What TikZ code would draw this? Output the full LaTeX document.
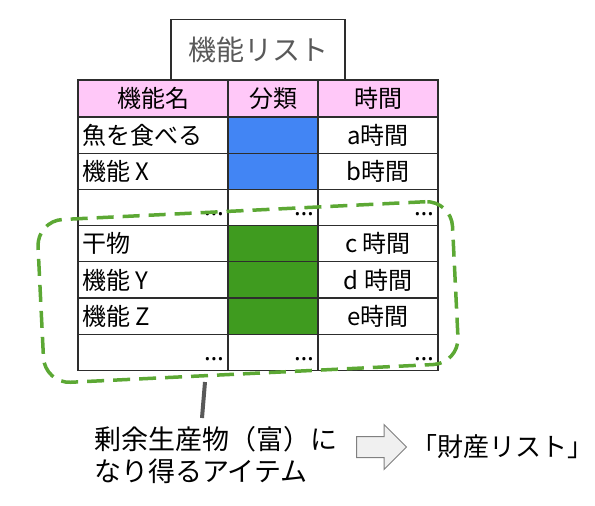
\documentclass[tikz,border=0pt]{standalone}
\usepackage{fontspec}
\setmainfont{Noto Sans CJK JP}
\newfontfamily\dotfont{Noto Sans}
\usetikzlibrary{positioning, shapes.arrows}
\definecolor{headpink}{RGB}{255, 200, 248}
\definecolor{featblue}{RGB}{66, 133, 244}
\definecolor{goodgreen}{RGB}{63, 155, 31}
\definecolor{dashgreen}{RGB}{92, 168, 52}
\definecolor{tablegray}{RGB}{45, 45, 45}
\definecolor{titlegray}{RGB}{89, 89, 89}
\definecolor{arrowfill}{RGB}{240, 240, 240}
\definecolor{arrowgray}{RGB}{128, 128, 128}
\tikzset{
    cell/.style={draw=tablegray, line width=1.2pt, anchor=north west,
        inner sep=0pt, outer sep=0pt, minimum height=36.2pt,
        font=\fontsize{24}{28}\selectfont},
    namecell/.style={cell, minimum width=150pt},
    kindcell/.style={cell, minimum width=90pt},
    timecell/.style={cell, minimum width=120pt},
    more/.style={font=\dotfont\fontsize{25}{28}\selectfont, inner sep=0pt,
        anchor=base east},
    note/.style={font=\fontsize{27}{32}\selectfont, inner sep=0pt, align=left},
}

\begin{document}
\begin{tikzpicture}[x=1pt, y=1pt]
    \useasboundingbox (0,0) rectangle (595,-506);
    % header row
    \node[namecell, fill=headpink, minimum height=37pt] (namehead) at (78,-80) {機能名};
    \node[kindcell, fill=headpink, minimum height=37pt] (kindhead) at (namehead.north east) {分類};
    \node[timecell, fill=headpink, minimum height=37pt] (timehead) at (kindhead.north east) {時間};
    \node[draw=tablegray, line width=1.2pt, minimum width=174pt, minimum height=60pt,
        anchor=south, text=titlegray, font=\fontsize{28}{32}\selectfont] (title)
        at (namehead.north -| 258,0) {機能リスト};
    % rows of the list
    \foreach \row/\tint/\fname/\hrs in {1/featblue/魚を食べる/a時間,
            2/featblue/機能 X/b時間, 3/white//, 4/goodgreen/干物/c 時間,
            5/goodgreen/機能 Y/d 時間, 6/goodgreen/機能 Z/e時間, 7/white//} {
        \node[namecell] (name\row) at (78, {-117-36.2*(\row-1)}) {};
        \node[kindcell, fill=\tint] (kind\row) at (name\row.north east) {};
        \node[timecell] (time\row) at (kind\row.north east) {\hrs};
        \node[cell, draw=none, anchor=west] (fname\row) at ([xshift=4pt]name\row.west) {\fname};
    }
    \foreach \row in {3,7}
        \foreach \col in {name,kind,time}
            \node[more] (\col dots\row) at ([xshift=-4pt, yshift=10pt]\col\row.south east) {…};
    % items that can become wealth
    \node[draw=dashgreen, line width=3.5pt, dash pattern=on 17pt off 9pt,
        rounded corners=26pt, minimum width=415pt, minimum height=163pt,
        rotate=2.8] (wealth) at (248,-292) {};
    \coordinate (leadtop) at (205,-382);
    \coordinate (leadfoot) at (202,-418);
    \draw[titlegray, line width=4pt] (leadtop) -- (leadfoot);
    \node[note, anchor=west] (surplus) at (94,-455) {剰余生産物（富）に\\なり得るアイテム};
    \node[single arrow, draw=arrowgray, fill=arrowfill, line width=1pt,
        inner xsep=0pt, inner ysep=10pt, single arrow head extend=12pt,
        minimum height=50pt, anchor=tail] (toassets) at (356,-447) {};
    \node[note, anchor=west, font=\fontsize{26}{30}\selectfont] (assets)
        at ([xshift=4pt]toassets.tip) {「財産リスト」};
\end{tikzpicture}
\end{document}
